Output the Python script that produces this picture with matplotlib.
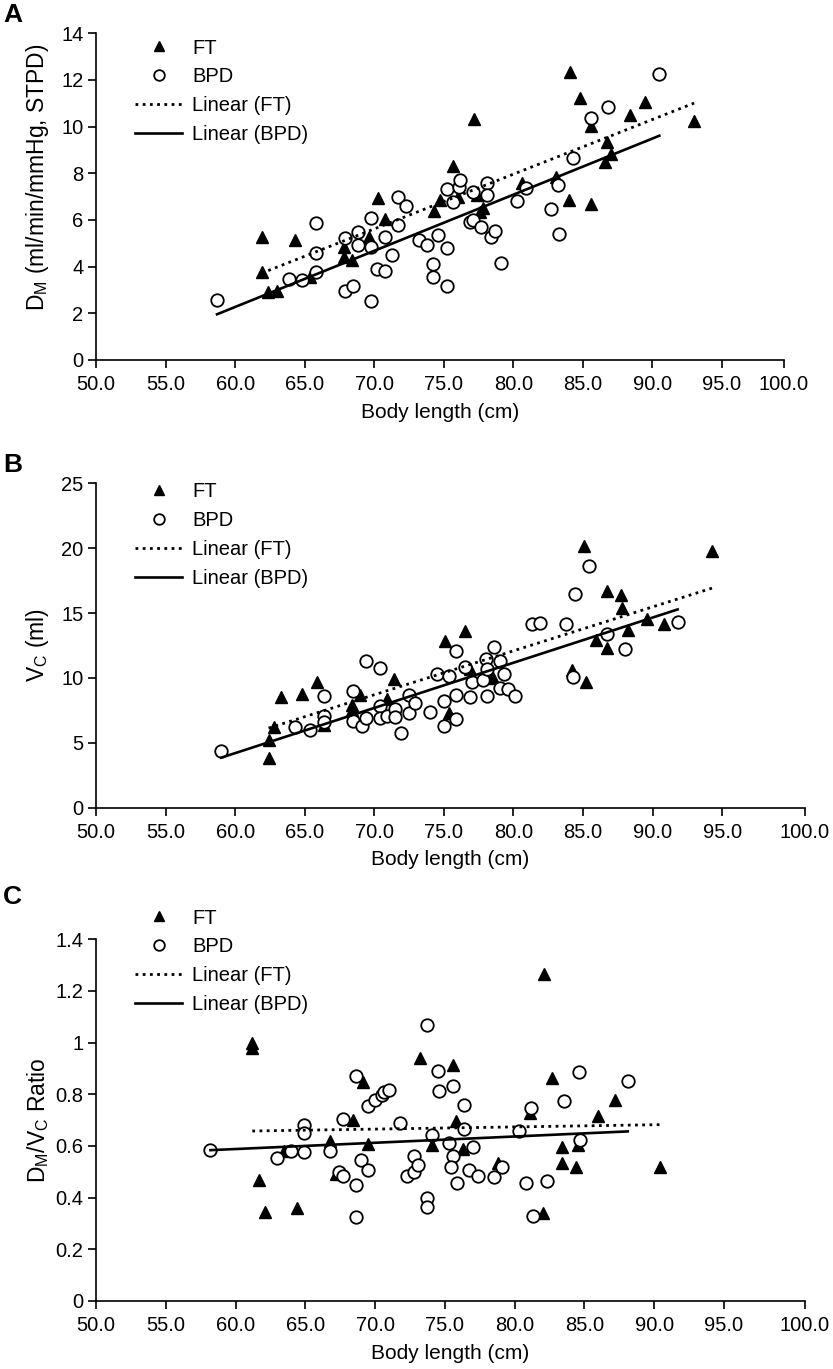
import numpy as np
import matplotlib
matplotlib.use('Agg')
import matplotlib.pyplot as plt

plt.rcParams['font.family'] = ['Liberation Sans', 'DejaVu Sans']
plt.rcParams['mathtext.default'] = 'regular'

# ---- data ----
# Panel A: D_M vs body length
a_ft_x = [61.9, 61.9, 62.4, 63.0, 64.3, 65.4, 67.8, 67.8, 68.4, 69.6, 70.3, 70.8, 74.3, 74.7,
          75.7, 76.0, 77.2, 77.4, 77.6, 77.8, 80.6, 83.1, 84.0, 84.1, 84.8, 85.6, 85.6, 86.6,
          86.7, 87.0, 88.4, 89.5, 93.0]
a_ft_y = [5.28, 3.78, 2.93, 2.97, 5.14, 3.54, 4.86, 4.40, 4.29, 5.28, 6.96, 6.03, 6.40, 6.86,
          8.33, 7.00, 10.31, 7.07, 6.36, 6.50, 7.57, 7.86, 6.86, 12.36, 11.24, 6.67, 10.03, 8.50,
          9.36, 8.83, 10.50, 11.04, 10.26]
a_bpd_x = [58.7, 63.9, 64.8, 65.8, 65.8, 65.8, 67.9, 67.9, 68.5, 68.8, 68.8, 69.8, 69.8, 69.8,
           70.2, 70.8, 70.8, 71.3, 71.7, 71.7, 72.3, 73.2, 73.8, 74.2, 74.2, 74.6, 75.2, 75.2,
           75.2, 75.7, 76.1, 76.2, 76.9, 77.1, 77.1, 77.7, 78.1, 78.1, 78.4, 78.7, 79.1, 80.3,
           80.9, 82.7, 83.2, 83.3, 84.3, 85.6, 86.8, 90.5]
a_bpd_y = [2.57, 3.46, 3.43, 5.89, 4.60, 3.78, 5.21, 2.97, 3.17, 5.50, 4.93, 6.07, 4.86, 2.53,
           3.89, 3.83, 5.26, 4.50, 7.00, 5.79, 6.60, 5.14, 4.93, 4.10, 3.57, 5.36, 4.79, 3.17,
           7.31, 6.79, 7.43, 7.71, 5.93, 7.19, 6.00, 5.69, 7.57, 7.07, 5.26, 5.53, 4.14, 6.81,
           7.39, 6.47, 7.50, 5.40, 8.64, 10.36, 10.83, 12.26]

# Panel B: V_C vs body length
b_ft_x = [62.4, 62.4, 62.8, 63.3, 64.8, 65.9, 66.4, 68.4, 68.4, 69.0, 70.9, 71.4, 75.1, 75.4,
          76.5, 76.9, 78.3, 78.5, 84.2, 85.1, 85.2, 85.9, 86.7, 86.7, 87.7, 87.8, 88.2, 89.6,
          90.8, 94.3]
b_ft_y = [5.20, 3.85, 6.23, 8.56, 8.80, 9.69, 6.36, 7.90, 7.50, 8.67, 8.36, 9.95, 12.82, 7.26,
          13.60, 10.70, 10.10, 10.00, 10.64, 20.13, 9.69, 12.95, 16.70, 12.30, 16.40, 15.36,
          13.72, 14.52, 14.18, 19.77]
b_bpd_x = [59.0, 64.3, 65.4, 66.4, 66.4, 66.4, 68.5, 68.5, 69.1, 69.4, 69.4, 70.4, 70.4, 70.4,
           70.9, 71.5, 71.5, 71.9, 72.5, 72.5, 72.9, 74.0, 74.5, 75.0, 75.0, 75.4, 75.9, 75.9,
           75.9, 76.5, 76.9, 77.0, 77.8, 78.0, 78.1, 78.1, 78.6, 79.0, 79.0, 79.3, 79.6, 80.1,
           81.3, 81.9, 83.8, 84.3, 84.4, 85.4, 86.7, 88.0, 91.8]
b_bpd_y = [4.38, 6.25, 5.95, 8.62, 7.08, 6.62, 9.00, 6.69, 6.31, 11.28, 6.95, 10.80, 7.82, 6.95,
           7.05, 7.57, 7.00, 5.72, 8.67, 7.26, 8.10, 7.41, 10.28, 8.25, 6.31, 10.15, 12.05, 8.67,
           6.87, 10.85, 8.51, 9.69, 9.82, 11.49, 10.72, 8.62, 12.41, 11.28, 9.23, 10.33, 9.18,
           8.59, 14.18, 14.26, 14.13, 10.05, 16.44, 18.60, 13.41, 12.20, 14.33]

# Panel C: D_M/V_C ratio vs body length
c_ft_x = [61.2, 61.2, 61.7, 62.1, 63.5, 64.4, 66.8, 67.2, 68.4, 69.1, 69.5, 73.2, 74.1, 75.6,
          75.8, 76.3, 78.8, 81.1, 82.0, 82.1, 82.7, 83.4, 83.4, 84.4, 84.5, 86.0, 87.2, 90.4]
c_ft_y = [1.00, 0.98, 0.47, 0.346, 0.58, 0.36, 0.62, 0.49, 0.70, 0.846, 0.607, 0.94, 0.605,
          0.915, 0.695, 0.588, 0.534, 0.727, 0.34, 1.264, 0.863, 0.598, 0.536, 0.52, 0.605,
          0.717, 0.779, 0.52]
c_bpd_x = [58.2, 63.0, 64.0, 64.9, 64.9, 64.9, 66.8, 67.4, 67.7, 67.7, 68.6, 68.6, 68.6, 69.0,
           69.5, 69.5, 70.0, 70.5, 70.6, 71.0, 71.8, 72.3, 72.8, 72.8, 73.1, 73.7, 73.7, 73.7,
           74.1, 74.5, 74.6, 75.3, 75.6, 75.6, 75.4, 75.9, 76.4, 76.4, 77.0, 76.7, 77.4, 78.5,
           79.1, 80.3, 80.8, 81.2, 81.3, 82.3, 83.5, 84.6, 84.7, 88.1]
c_bpd_y = [0.585, 0.553, 0.579, 0.68, 0.65, 0.576, 0.579, 0.50, 0.705, 0.485, 0.872, 0.45,
           0.324, 0.547, 0.508, 0.756, 0.779, 0.798, 0.81, 0.815, 0.69, 0.482, 0.563, 0.50,
           0.527, 1.067, 0.40, 0.365, 0.643, 0.889, 0.811, 0.613, 0.834, 0.562, 0.52, 0.458,
           0.76, 0.666, 0.596, 0.508, 0.485, 0.48, 0.518, 0.659, 0.458, 0.747, 0.33, 0.465,
           0.773, 0.885, 0.624, 0.853]

x_ticks = [50, 55, 60, 65, 70, 75, 80, 85, 90, 95, 100]

panels = [
    # letter, ft x/y, bpd x/y, y ticks, y tick labels, ylabel, ylabel centre (axes frac),
    # box (l, t, r, b) px, last-interval stretch, legend anchor px, letter y px
    ('A', a_ft_x, a_ft_y, a_bpd_x, a_bpd_y, [0, 2, 4, 6, 8, 10, 12, 14], None,
     'D$_M$ (ml/min/mmHg, STPD)', 0.56, (96, 33.3, 784, 360), 0.892, (135, 38.5), 15),
    ('B', b_ft_x, b_ft_y, b_bpd_x, b_bpd_y, [0, 5, 10, 15, 20, 25], None,
     'V$_C$ (ml)', 0.5, (96, 483.3, 805, 807.7), 1.19, (135, 482), 465),
    ('C', c_ft_x, c_ft_y, c_bpd_x, c_bpd_y, [0, 0.2, 0.4, 0.6, 0.8, 1.0, 1.2, 1.4],
     ['0', '0.2', '0.4', '0.6', '0.8', '1', '1.2', '1.4'],
     'D$_M$/V$_C$ Ratio', 0.5, (96, 939.3, 805, 1301), 1.16, (135, 908.5), 897),
]

W, H = 833, 1369
fig = plt.figure(figsize=(W / 100, H / 100), dpi=100)

for letter, fx, fy, bx, by, yt, ytl, ylab, ylab_y, box, k, leg, let_y in panels:
    l, t, r, b = box
    ax = fig.add_axes([l / W, 1 - b / H, (r - l) / W, (b - t) / H])

    # the 95-100 interval is drawn a bit shorter/longer than the rest in the original
    def fwd(x, k=k):
        x = np.asarray(x, dtype=float)
        return np.where(x <= 95, x, 95 + (x - 95) * k)

    def inv(x, k=k):
        x = np.asarray(x, dtype=float)
        return np.where(x <= 95, x, 95 + (x - 95) / k)

    ax.set_xscale('function', functions=(fwd, inv))

    ax.plot(fx, fy, linestyle='none', marker='^', ms=9, color='black', label='FT', zorder=3)
    ax.plot(bx, by, linestyle='none', marker='o', ms=9, mfc='white', mec='black', mew=1.3,
            label='BPD', zorder=3)

    # Excel-style linear trendlines over each series' range
    for xs, ys, ls, lab in [(fx, fy, (0, (1, 1.6)), 'Linear (FT)'),
                            (bx, by, '-', 'Linear (BPD)')]:
        m, c = np.polyfit(xs, ys, 1)
        xx = np.array([min(xs), max(xs)])
        ax.plot(xx, m * xx + c, color='black', linestyle=ls, lw=1.9 if ls == '-' else 2.0,
                label=lab, zorder=4)

    ax.set_xlim(50, 100)
    ax.set_ylim(yt[0], yt[-1])
    ax.set_xticks(x_ticks)
    ax.set_xticklabels(['%.1f' % v for v in x_ticks])
    ax.set_yticks(yt)
    if ytl:
        ax.set_yticklabels(ytl)
    ax.minorticks_off()

    for s in ['top', 'right']:
        ax.spines[s].set_visible(False)
    for s in ['left', 'bottom']:
        ax.spines[s].set_linewidth(1.2)
    ax.tick_params(direction='out', length=6, width=1.2, labelsize=14.5)
    ax.tick_params(axis='x', pad=5)
    ax.tick_params(axis='y', pad=3)

    ax.set_xlabel('Body length (cm)', fontsize=15, labelpad=6)
    ax.set_ylabel(ylab, fontsize=16.5)
    # label sits ~45 px left of the y axis line
    ax.yaxis.set_label_coords(-45 / (r - l), ylab_y)

    ax.legend(loc='upper left', bbox_to_anchor=(leg[0] / W, 1 - leg[1] / H),
              bbox_transform=fig.transFigure, frameon=False, fontsize=14.5,
              borderpad=0, borderaxespad=0, handlelength=2.35, handletextpad=0.5,
              labelspacing=0.49, markerscale=0.85)

    fig.text(3 / W, 1 - let_y / H, letter, fontsize=19, fontweight='bold',
             va='center', ha='left')

fig.savefig('out.png', dpi=100)
